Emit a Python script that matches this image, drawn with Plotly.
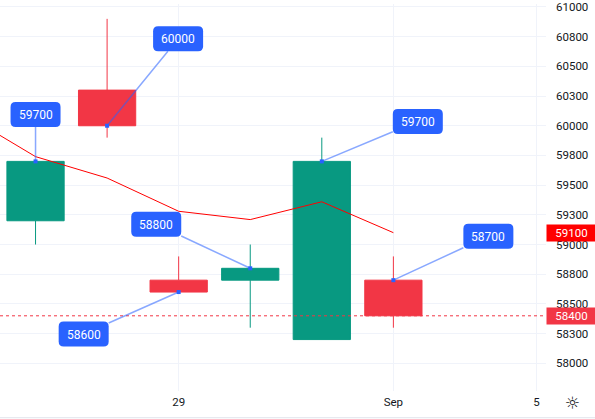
import plotly.graph_objects as go

# ---- data ----
dates = ["2022-08-25", "2022-08-26", "2022-08-29", "2022-08-30", "2022-08-31", "2022-09-01"]
opens = [59200, 60300, 58700, 58700, 58200, 58700]
highs = [59700, 60900, 58900, 59000, 59900, 58900]
lows = [59000, 59900, 58600, 58300, 58200, 58300]
closes = [59700, 60000, 58600, 58800, 59700, 58400]

ma_dates = ["2022-08-24", "2022-08-25", "2022-08-26", "2022-08-29", "2022-08-30", "2022-08-31", "2022-09-01"]
ma_values = [60100, 59740, 59560, 59280, 59210, 59360, 59100]

signal_values = [59700, 60000, 58600, 58800, 59700, 58700]
signal_ax = [0, 71, -95, -94, 96, 95]
signal_ay = [-47, -87, 42, -44, -40, -44]

y_tickvals = [58000, 58250, 58500, 58750, 59000, 59250, 59500, 59750, 60000, 60250, 60500, 60750, 61000]
y_ticktext = ["58000", "58300", "58500", "58800", "59000", "59300", "59500", "59800",
              "60000", "60300", "60500", "60800", "61000"]
x_tickvals = ["2022-08-29", "2022-09-01", "2022-09-05"]
x_ticktext = ["29", "Sep", "5"]

last_price = closes[-1]
ma_last = ma_values[-1]

GREEN = "#089981"
RED = "#F23645"
BLUE = "#2962FF"
GRID = "#F0F3FA"
TXT = "#131722"
FONT = "Roboto, 'Liberation Sans', sans-serif"

fig = go.Figure()

fig.add_trace(go.Scatter(
    x=ma_dates, y=ma_values, mode="lines",
    line=dict(color="#FF0000", width=1), hoverinfo="skip", showlegend=False,
))

fig.add_trace(go.Candlestick(
    x=dates, open=opens, high=highs, low=lows, close=closes,
    increasing=dict(line=dict(color=GREEN, width=1), fillcolor=GREEN),
    decreasing=dict(line=dict(color=RED, width=1), fillcolor=RED),
    whiskerwidth=0, showlegend=False,
))

fig.add_trace(go.Scatter(
    x=dates, y=signal_values, mode="markers",
    marker=dict(symbol="square", size=4, color=BLUE),
    hoverinfo="skip", showlegend=False,
))

# last price dotted line
fig.add_shape(type="line", xref="paper", x0=0, x1=1, yref="y", y0=last_price, y1=last_price,
              line=dict(color=RED, width=1, dash="dot"))

# bottom border
fig.add_shape(type="line", xref="paper", x0=0, x1=595 / 546, yref="paper", y0=-27 / 391, y1=-27 / 391,
              line=dict(color="#E0E3EB", width=1))


def rounded_rect(cx, cy, w, h, r):
    x0, x1 = cx - w / 2, cx + w / 2
    y0, y1 = cy - h / 2, cy + h / 2
    return (f"M {x0 + r},{y0} L {x1 - r},{y0} Q {x1},{y0} {x1},{y0 + r} "
            f"L {x1},{y1 - r} Q {x1},{y1} {x1 - r},{y1} L {x0 + r},{y1} "
            f"Q {x0},{y1} {x0},{y1 - r} L {x0},{y0 + r} Q {x0},{y0} {x0 + r},{y0} Z")


annotations = []
for d, v, ax, ay in zip(dates, signal_values, signal_ax, signal_ay):
    fig.add_shape(
        type="path", xref="x", yref="y", xsizemode="pixel", ysizemode="pixel",
        xanchor=d, yanchor=v, path=rounded_rect(ax, -ay, 50, 25, 5),
        fillcolor=BLUE, line=dict(width=0), layer="above",
    )
    annotations.append(dict(
        x=d, y=v, xref="x", yref="y", text=str(v),
        showarrow=True, arrowhead=0, arrowwidth=1.5, arrowcolor="rgba(41,98,255,0.55)",
        ax=ax, ay=ay, standoff=0,
        bgcolor="rgba(0,0,0,0)", borderwidth=0, borderpad=0,
        width=50, height=25, align="center",
        font=dict(family=FONT, size=12, color="white"),
    ))

# axis badges
for val, col in [(ma_last, "#FF0000"), (last_price, RED)]:
    annotations.append(dict(
        x=1, xref="paper", xanchor="left", y=val, yref="y", yanchor="middle",
        text=str(val), showarrow=False, bgcolor=col, borderpad=0,
        width=49, height=16, align="center",
        font=dict(family=FONT, size=11.5, color="white"),
    ))

# settings icon
annotations.append(dict(
    x=572 / 546, y=-12 / 391, xref="paper", yref="paper", text="☼", showarrow=False,
    xanchor="center", yanchor="middle",
    font=dict(family="DejaVu Sans", size=17, color=TXT),
))

fig.update_layout(
    width=595, height=419,
    margin=dict(l=0, r=49, t=0, b=28),
    paper_bgcolor="white", plot_bgcolor="white",
    font=dict(family=FONT, size=11.5, color=TXT),
    showlegend=False,
    boxgap=0.2, boxgroupgap=0,
    annotations=annotations,
    xaxis=dict(
        type="date",
        rangebreaks=[dict(bounds=["sat", "mon"])],
        range=["2022-08-24 12:05", "2022-09-05 03:11"],
        tickvals=x_tickvals, ticktext=x_ticktext,
        showgrid=True, gridcolor=GRID, gridwidth=1,
        zeroline=False, showline=False, ticks="",
        rangeslider=dict(visible=False), fixedrange=True,
        ticklabelstandoff=2,
        tickfont=dict(family=FONT, size=11.5, color=TXT),
    ),
    yaxis=dict(
        side="right",
        range=[57767, 61025],
        tickvals=y_tickvals, ticktext=y_ticktext,
        showgrid=True, gridcolor=GRID, gridwidth=1,
        zeroline=False, showline=False, ticks="",
        ticklabelstandoff=9, fixedrange=True, ticklabeloverflow="allow",
        tickfont=dict(family=FONT, size=11.5, color=TXT),
    ),
)

fig.write_html("out.html", config={"displayModeBar": False},
               post_script="document.body.style.margin='0';document.body.style.overflow='hidden';")
